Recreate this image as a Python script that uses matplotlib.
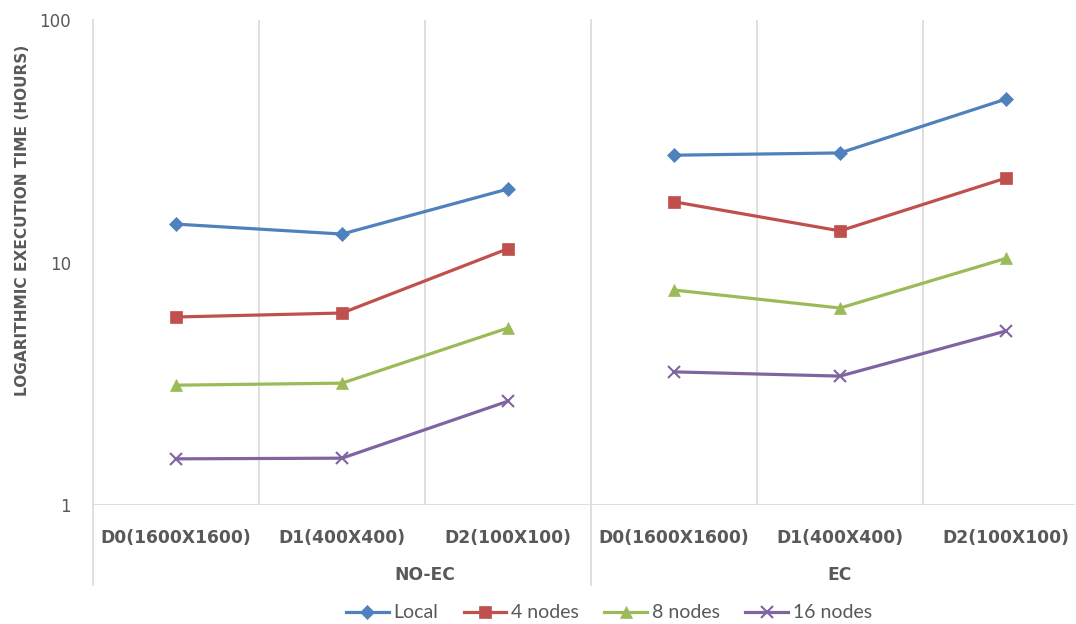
import numpy as np
import matplotlib
matplotlib.use("Agg")
import matplotlib.pyplot as plt
from matplotlib.transforms import blended_transform_factory

plt.rcParams["font.family"] = ["DejaVu Sans"]

# data (hours, log scale)
datasets = ["D0(1600X1600)", "D1(400X400)", "D2(100X100)"]
groups = ["NO-EC", "EC"]
series_names = ["Local", "4 nodes", "8 nodes", "16 nodes"]

local_noec = [14.4, 13.1, 20.1]
local_ec = [27.7, 28.3, 47.2]
nodes4_noec = [5.96, 6.19, 11.4]
nodes4_ec = [17.8, 13.5, 22.3]
nodes8_noec = [3.12, 3.18, 5.37]
nodes8_ec = [7.7, 6.49, 10.4]
nodes16_noec = [1.55, 1.56, 2.68]
nodes16_ec = [3.54, 3.40, 5.22]

series = [
    (local_noec, local_ec),
    (nodes4_noec, nodes4_ec),
    (nodes8_noec, nodes8_ec),
    (nodes16_noec, nodes16_ec),
]
colors = ["#4F81BD", "#C0504D", "#9BBB59", "#8064A2"]
markers = ["D", "s", "^", "x"]
msizes = [7, 8, 8, 8]

gray_txt = "#595959"
grid_col = "#D9D9D9"

W, H = 1076, 624
fig = plt.figure(figsize=(W / 100, H / 100), dpi=100)
x0, x1, yb, yt = 93, 1075, 505, 20
ax = fig.add_axes([x0 / W, 1 - yb / H, (x1 - x0) / W, (yb - yt) / H])

n = len(datasets)
for (noec, ec), c, m, ms, name in zip(series, colors, markers, msizes, series_names):
    xa = np.arange(n)
    ax.plot(xa, noec, color=c, marker=m, markersize=ms, lw=2.3,
            markeredgewidth=1.5 if m == "x" else 0.5, label=name)
    ax.plot(xa + n, ec, color=c, marker=m, markersize=ms, lw=2.3,
            markeredgewidth=1.5 if m == "x" else 0.5)

ax.set_yscale("log")
ax.set_ylim(1, 100)
cat_w = 166.0
ax.set_xlim(-0.5, (x1 - x0) / cat_w - 0.5)

for s in ax.spines.values():
    s.set_visible(False)
ax.axhline(1, color=grid_col, lw=1.2, zorder=0)

# vertical separators between categories
trans = blended_transform_factory(ax.transData, ax.transAxes)
for b in [0.5, 1.5, 3.5, 4.5]:
    ax.axvline(b, color=grid_col, lw=1.2, zorder=0)
for b in [-0.5, 2.5]:
    ax.plot([b, b], [-0.165, 1.0], transform=trans, color=grid_col, lw=1.2,
            clip_on=False, zorder=0)

ax.set_yticks([1, 10, 100])
ax.set_yticklabels(["1", "10", "100"])
ax.yaxis.set_minor_locator(matplotlib.ticker.NullLocator())
ax.tick_params(axis="y", length=0, pad=16, labelsize=12, labelcolor=gray_txt)

ax.set_xticks(np.arange(2 * n))
ax.set_xticklabels(datasets * 2, fontweight="bold", fontsize=12.3, color=gray_txt)
ax.tick_params(axis="x", length=0, pad=17)

ax.text(1.5, -0.144, groups[0], transform=trans, ha="center", va="center",
        fontsize=12.3, fontweight="bold", color=gray_txt)
ax.text(4.0, -0.144, groups[1], transform=trans, ha="center", va="center",
        fontsize=12.3, fontweight="bold", color=gray_txt)

fig.text(23 / W, 1 - 220 / H, "LOGARITHMIC EXECUTION TIME (HOURS)", rotation=90,
         ha="center", va="center", fontsize=11.1, fontweight="bold", color=gray_txt)

leg = fig.legend(loc="center", bbox_to_anchor=(609 / W, 1 - 613 / H), ncol=4,
                 frameon=False, prop={"family": "Lato", "size": 14},
                 handlelength=2.2, columnspacing=1.3, handletextpad=0.25)
for t in leg.get_texts():
    t.set_color(gray_txt)

fig.savefig("out.png", dpi=100)
